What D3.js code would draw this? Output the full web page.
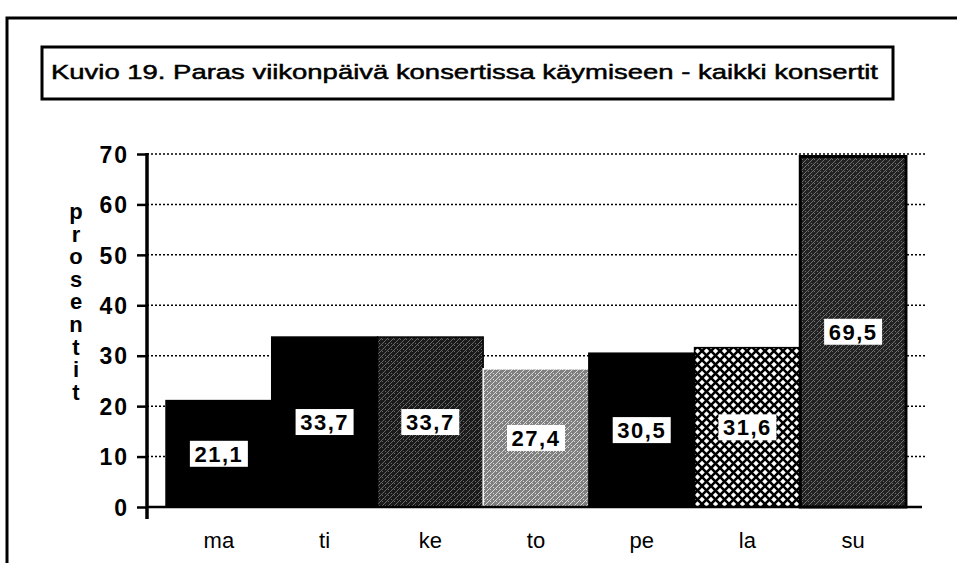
<!DOCTYPE html>
<html>
<head>
<meta charset="utf-8">
<script src="https://cdn.jsdelivr.net/npm/d3@7"></script>
<style>
  body { margin: 0; background: #fff; }
  svg { display: block; font-family: "Liberation Sans", Arial, Helvetica, sans-serif; }
</style>
</head>
<body>
<div class="visualizations"></div>
<script>
// data
var days = ["ma", "ti", "ke", "to", "pe", "la", "su"];
var values = [21.1, 33.7, 33.7, 27.4, 30.5, 31.6, 69.5];
var labels = ["21,1", "33,7", "33,7", "27,4", "30,5", "31,6", "69,5"];
var fills = ["black", "black", "url(#darkNoise)", "url(#lightNoise)", "black", "url(#cross)", "url(#darkNoise2)"];
var yTicks = [0, 10, 20, 30, 40, 50, 60, 70];
var yTitle = "prosentit".split("");
var title = "Kuvio 19. Paras viikonpäivä konsertissa käymiseen - kaikki konsertit";

var width = 957, height = 563;
var svg = d3.select(".visualizations").append("svg").attr("width", width).attr("height", height);

// patterns to imitate the print textures
var defs = svg.append("defs");
function noise(id, base, light, op) {
  var p = defs.append("pattern").attr("id", id).attr("patternUnits", "userSpaceOnUse").attr("width", 6).attr("height", 6);
  p.append("rect").attr("width", 6).attr("height", 6).attr("fill", base);
  p.append("path").attr("d", "M0,6 L6,0 M-1,1 L1,-1 M5,7 L7,5").attr("stroke", light).attr("stroke-width", 1).attr("opacity", op);
  p.append("rect").attr("x", 1).attr("y", 1).attr("width", 1).attr("height", 1).attr("fill", light).attr("opacity", op);
  p.append("rect").attr("x", 4).attr("y", 3).attr("width", 1).attr("height", 1).attr("fill", light).attr("opacity", op);
}
noise("darkNoise", "#1a1a1a", "#b5b5b5", 0.5);
noise("darkNoise2", "#222", "#bbb", 0.5);
noise("lightNoise", "#808080", "#f0f0f0", 0.8);
var cp = defs.append("pattern").attr("id", "cross").attr("patternUnits", "userSpaceOnUse").attr("width", 9).attr("height", 9);
cp.append("rect").attr("width", 9).attr("height", 9).attr("fill", "white");
cp.append("path").attr("d", "M0,0 L9,9 M9,0 L0,9").attr("stroke", "black").attr("stroke-width", 2.6);

// outer frame
svg.append("polyline").attr("points", "7,563 7,18 957,18").style("fill", "none").style("stroke", "black").style("stroke-width", 3);

// title box
svg.append("rect").attr("x", 42).attr("y", 47).attr("width", 851).attr("height", 52).style("fill", "white").style("stroke", "black").style("stroke-width", 3);
svg.append("text").attr("x", 51).attr("y", 79).attr("font-size", 21)
  .style("stroke", "black").style("stroke-width", 0.5)
  .attr("textLength", 827).attr("lengthAdjust", "spacingAndGlyphs").text(title);

var x = d3.scaleBand().domain(days).range([147, 925]).paddingInner(0).paddingOuter(0.18);
var y = d3.scaleLinear().domain([0, 70]).range([507, 154]);

// gridlines
svg.append("g").selectAll("line").data(yTicks.slice(1)).enter().append("line")
  .attr("x1", 147).attr("x2", 925).attr("y1", function(d) { return y(d); }).attr("y2", function(d) { return y(d); })
  .style("stroke", "black").style("stroke-width", 1.5).style("stroke-dasharray", "2,2");

// bars
svg.append("g").selectAll("rect").data(values).enter().append("rect")
  .attr("x", function(d, i) { return x(days[i]); })
  .attr("y", function(d) { return y(d); })
  .attr("width", x.bandwidth())
  .attr("height", function(d) { return y(0) - y(d); })
  .style("fill", function(d, i) { return fills[i]; })
  .style("stroke", function(d, i) { return i === 3 ? "white" : "black"; })
  .style("stroke-width", function(d, i) { return i === 6 ? 3 : 1.5; });

// value labels in white boxes
var vl = svg.append("g").selectAll("g").data(values).enter().append("g")
  .attr("transform", function(d, i) { return "translate(" + (x(days[i]) + x.bandwidth() / 2) + "," + y(d / 2) + ")"; });
vl.append("rect").attr("x", -29).attr("y", -13).attr("width", 58).attr("height", 26).style("fill", "white");
vl.append("text").attr("text-anchor", "middle").attr("y", 8).attr("font-size", 22).attr("letter-spacing", 1.5)
  .attr("font-weight", "bold").text(function(d, i) { return labels[i]; });

// baseline
svg.append("line").attr("x1", 147).attr("x2", 922).attr("y1", y(0)).attr("y2", y(0)).style("stroke", "black").style("stroke-width", 2.5);

// y axis
var yAxis = d3.axisLeft(y).tickValues(yTicks).tickSize(10).tickPadding(8).tickFormat(d3.format("d"));
var ya = svg.append("g").attr("transform", "translate(147,0)").call(yAxis);
ya.select(".domain").remove();
ya.selectAll(".tick line").style("stroke", "black").style("stroke-width", 2.5);
ya.selectAll(".tick text").attr("font-size", 23).attr("font-weight", "bold").attr("letter-spacing", 2)
  .style("font-family", "'Liberation Sans', Arial, sans-serif").attr("fill", "black").attr("dy", "0.36em");
svg.append("line").attr("x1", 147).attr("x2", 147).attr("y1", y(70) - 1).attr("y2", 519).style("stroke", "black").style("stroke-width", 3.5);

// vertical axis title, one letter per line
svg.append("g").selectAll("text").data(yTitle).enter().append("text")
  .attr("x", 76).attr("y", function(d, i) { return 219 + i * 22.6; })
  .attr("text-anchor", "middle").attr("font-size", 22).attr("font-weight", "bold").text(function(d) { return d; });

// category labels
var xAxis = d3.axisBottom(x).tickSize(0).tickPadding(0);
var xa = svg.append("g").attr("transform", "translate(0,548)").call(xAxis);
xa.select(".domain").remove();
xa.selectAll(".tick text").attr("font-size", 22).attr("fill", "black").attr("dy", 0)
  .style("font-family", "'Liberation Sans', Arial, sans-serif");
</script>
</body>
</html>
